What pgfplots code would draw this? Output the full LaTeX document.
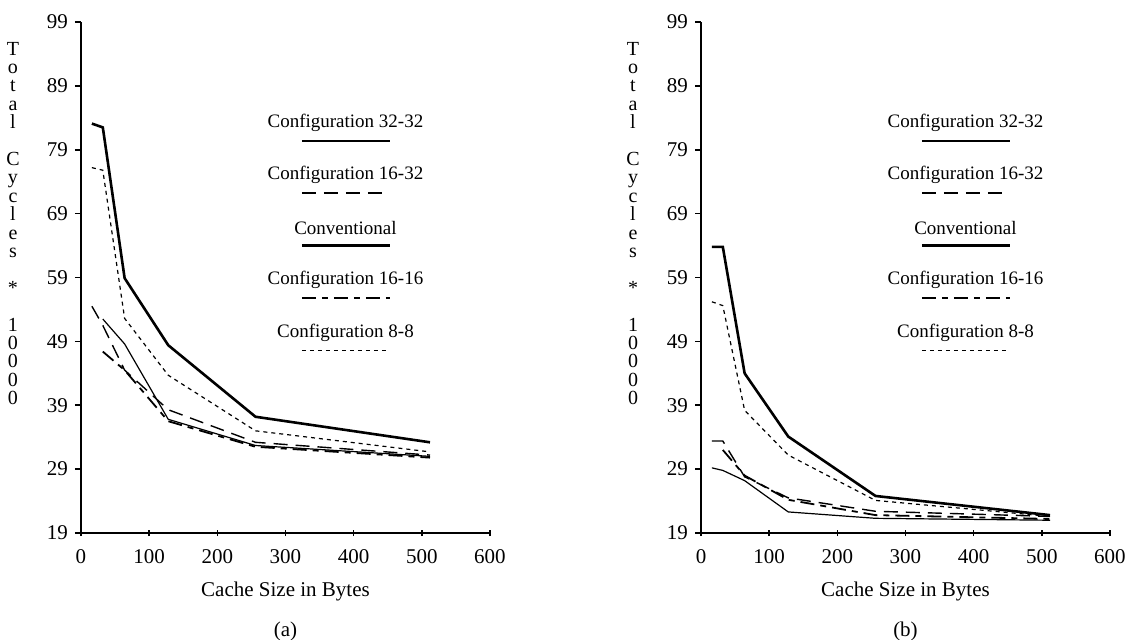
\documentclass[border=0pt]{standalone}
\usepackage{fontspec}
\setmainfont{Liberation Serif}
\usepackage{pgfplots}
\pgfplotsset{compat=1.18}

\tikzset{
  s3232/.style={black, line width=1.3pt},
  s1632/.style={black, line width=0.7pt, dash pattern=on 7pt off 4pt},
  sconv/.style={black, line width=0.6pt},
  s1616/.style={black, line width=0.9pt, dash pattern=on 7pt off 3pt on 3pt off 3pt},
  s88/.style={black, line width=0.6pt, dash pattern=on 2pt off 2pt},
}

\pgfplotsset{
  cachepanel/.style={
    scale only axis, width=204.5pt, height=255.5pt,
    xmin=0, xmax=600, ymin=19, ymax=99,
    xtick={0,100,...,600}, ytick={19,29,...,99},
    axis x line*=bottom, axis y line*=left,
    axis line style={-, line width=1pt},
    tick style={black, line width=0.8pt},
    xtick align=center, ytick align=outside,
    major tick length=3pt,
    ticklabel style={font=\fontsize{10.5}{12}\selectfont},
    xticklabel style={yshift=-3pt},
    /pgf/number format/assume math mode=true,
    xlabel={Cache Size in Bytes},
    xlabel style={font=\fontsize{10.5}{12}\selectfont, at={(axis description cs:0.5,0)}, anchor=center, yshift=-29pt},
    clip=false,
  }
}

\newcommand{\legendblock}{%
  \node[font=\fontsize{9.5}{11}\selectfont] at (axis cs:388,83.2) {Configuration 32-32};
  \draw[s3232] (axis cs:324,80.4) -- (axis cs:453,80.4);
  \node[font=\fontsize{9.5}{11}\selectfont] at (axis cs:388,75.0) {Configuration 16-32};
  \draw[s1632] (axis cs:324,72.2) -- (axis cs:453,72.2);
  \node[font=\fontsize{9.5}{11}\selectfont] at (axis cs:388,66.8) {Conventional};
  \draw[s3232] (axis cs:324,64.0) -- (axis cs:453,64.0);
  \node[font=\fontsize{9.5}{11}\selectfont] at (axis cs:388,58.6) {Configuration 16-16};
  \draw[s1616] (axis cs:324,55.8) -- (axis cs:453,55.8);
  \node[font=\fontsize{9.5}{11}\selectfont] at (axis cs:388,50.4) {Configuration 8-8};
  \draw[s88] (axis cs:324,47.6) -- (axis cs:453,47.6);
}

\newcommand{\stackedlabel}{%
  \node[font=\fontsize{10}{9.2}\selectfont, align=center, inner sep=0pt]
    at (axis description cs:0,0.5) [xshift=-34pt, yshift=27pt]
    {T\\o\\t\\a\\l\\\mbox{}\\C\\y\\c\\l\\e\\s\\\mbox{}\\*\\\mbox{}\\1\\0\\0\\0\\0};
}

\begin{document}
\begin{tikzpicture}
\path[use as bounding box] (-40.5pt,-53pt) rectangle (522pt,266.5pt);

% (a)
\begin{axis}[cachepanel, at={(0pt,0pt)}, anchor=south west]
\addplot[s3232] coordinates {(16,83.1) (32,82.5) (64,58.9) (128,48.4) (256,37.2) (512,33.2)};
\addplot[s88] coordinates {(16,76.2) (32,75.8) (64,52.6) (128,43.7) (256,35.0) (512,31.7)};
\addplot[s1632] coordinates {(16,54.5) (32,51.5) (64,44.5) (128,38.3) (256,33.2) (512,31.2)};
\addplot[sconv] coordinates {(32,52.5) (64,48.6) (128,36.8) (256,32.7) (512,31.0)};
\addplot[s1616] coordinates {(32,47.4) (64,44.5) (128,36.5) (256,32.5) (512,30.8)};
\legendblock
\stackedlabel
\node[font=\fontsize{10.5}{12}\selectfont] at (axis description cs:0.5,0) [yshift=-49pt] {(a)};
\end{axis}

% (b)
\begin{axis}[cachepanel, at={(310pt,0pt)}, anchor=south west]
\addplot[s3232] coordinates {(16,63.8) (32,63.8) (64,44.0) (128,34.1) (256,24.8) (512,21.8)};
\addplot[s88] coordinates {(16,55.2) (32,54.6) (64,38.2) (128,31.2) (256,24.1) (512,21.6)};
\addplot[s1632] coordinates {(16,33.4) (32,33.4) (64,27.8) (128,24.5) (256,22.4) (512,21.6)};
\addplot[sconv] coordinates {(16,29.2) (32,28.8) (64,27.2) (128,22.3) (256,21.3) (512,21.0)};
\addplot[s1616] coordinates {(32,32.0) (64,28.0) (128,24.2) (256,21.8) (512,21.2)};
\legendblock
\stackedlabel
\node[font=\fontsize{10.5}{12}\selectfont] at (axis description cs:0.5,0) [yshift=-49pt] {(b)};
\end{axis}
\end{tikzpicture}
\end{document}
